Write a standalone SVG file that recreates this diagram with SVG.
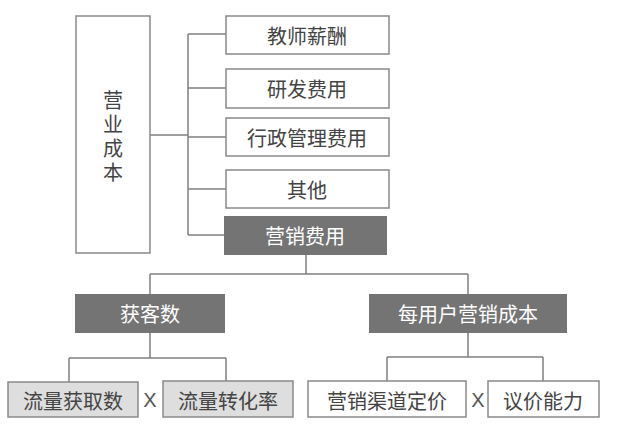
<svg xmlns="http://www.w3.org/2000/svg" width="620" height="434" viewBox="0 0 620 434">
<style>
text{font-family:"Noto Sans CJK SC","Liberation Sans",sans-serif;font-size:20px;fill:#444;text-anchor:middle;dominant-baseline:central}
.box{fill:#fff;stroke:#8a8a8a;stroke-width:1.5}
.dark{fill:#747474;stroke:none}
.light{fill:#dedede;stroke:#8a8a8a;stroke-width:1.5}
.w{fill:#fff}
.con{fill:none;stroke:#808080;stroke-width:1.5}
.x{font-family:"Liberation Sans",sans-serif;font-size:20px;fill:#555}
.v{writing-mode:vertical-rl;letter-spacing:4px}
</style>
<rect width="620" height="434" fill="#fff"/>
<g id="connectors" class="con">
<path d="M150 135H188M188 34V235M188 34H226M188 88H226M188 137H226M188 189H226M188 235H224"/>
<path d="M306 255V274M150 274H468M150 274V294M468 274V294"/>
<path d="M150 333V358M69 358H226M69 358V382M226 358V381"/>
<path d="M468 333V357M387 357H543M387 357V381M543 357V381"/>
</g>
<g id="n-yingye"><rect class="box" x="76" y="16" width="74" height="237"/>
<text class="v" x="113" y="138">营业成本</text></g>
<g id="n-jiaoshi"><rect class="box" x="226" y="16" width="163" height="38"/><text x="307" y="35">教师薪酬</text></g>
<g id="n-yanfa"><rect class="box" x="226" y="69" width="163" height="39"/><text x="307" y="88">研发费用</text></g>
<g id="n-xingzheng"><rect class="box" x="226" y="118" width="163" height="38"/><text x="307" y="137">行政管理费用</text></g>
<g id="n-qita"><rect class="box" x="226" y="170" width="163" height="38"/><text x="307" y="189">其他</text></g>
<g id="n-yingxiao"><rect class="dark" x="224" y="216" width="163" height="39"/><text class="w" x="305" y="235">营销费用</text></g>
<g id="n-huoke"><rect class="dark" x="75" y="294" width="150" height="39"/><text class="w" x="150" y="313">获客数</text></g>
<g id="n-meiyonghu"><rect class="dark" x="369" y="294" width="198" height="39"/><text class="w" x="468" y="313">每用户营销成本</text></g>
<g id="n-liuliang1"><rect class="light" x="8" y="382" width="130" height="35"/><text x="73" y="400">流量获取数</text></g>
<g id="n-liuliang2"><rect class="light" x="163" y="381" width="130" height="36"/><text x="228" y="400">流量转化率</text></g>
<g id="n-qudao"><rect class="box" x="308" y="381" width="158" height="36"/><text x="387" y="400">营销渠道定价</text></g>
<g id="n-yijia"><rect class="box" x="488" y="381" width="111" height="36"/><text x="543" y="400">议价能力</text></g>
<text class="x" x="150" y="400">X</text>
<text class="x" x="478" y="400">X</text>
</svg>
